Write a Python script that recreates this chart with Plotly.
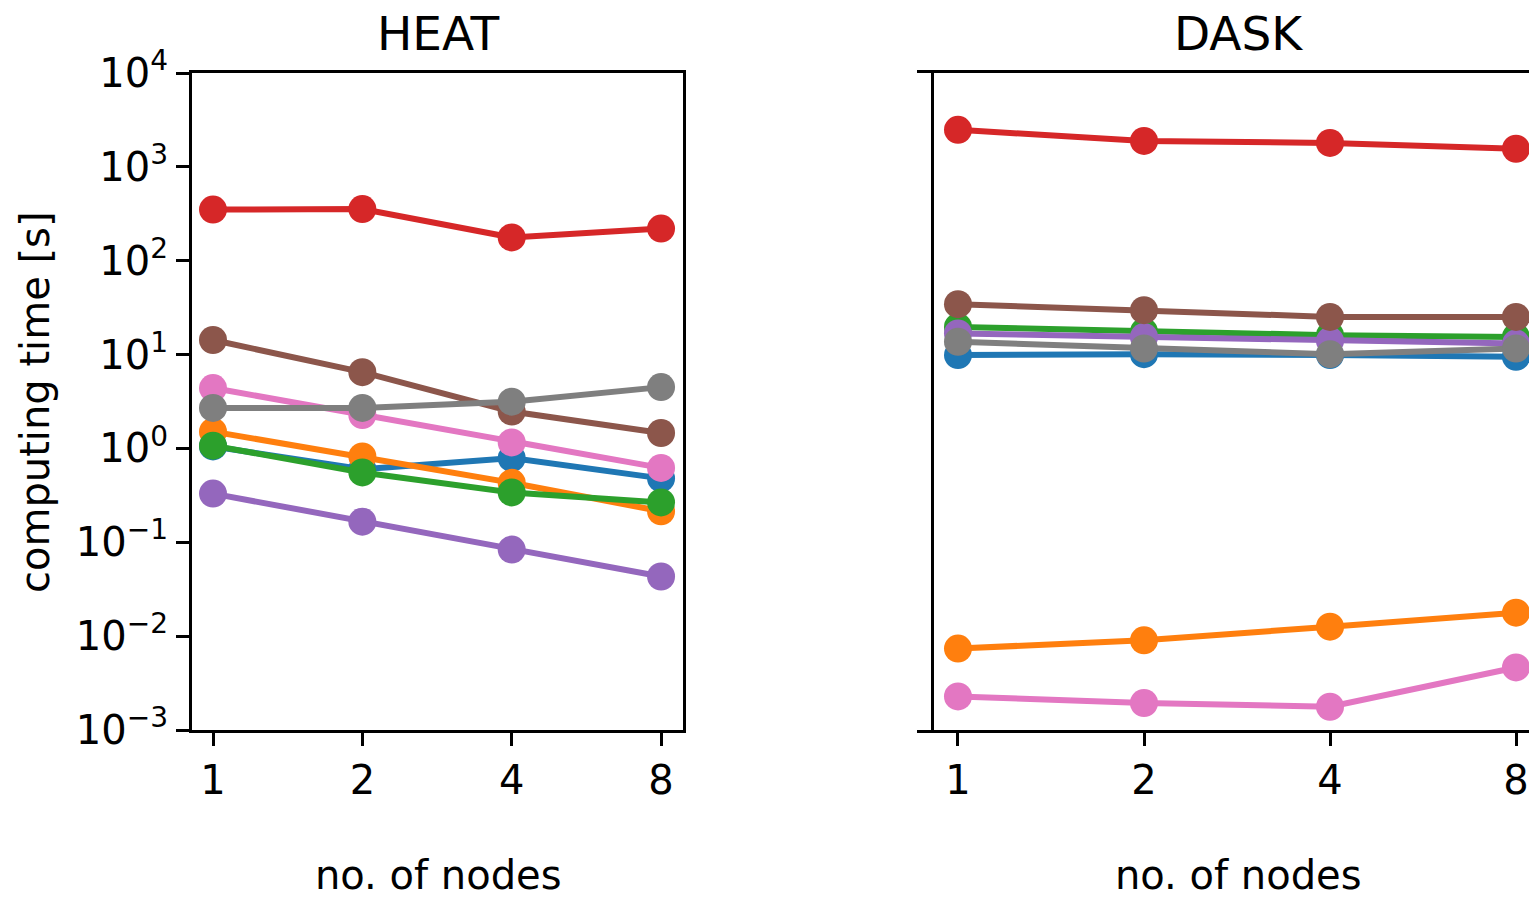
import plotly.graph_objects as go

nodes = ["1", "2", "4", "8"]

# HEAT panel (computing time [s])
heat_blue = [1.05, 0.60, 0.79, 0.48]
heat_orange = [1.51, 0.82, 0.43, 0.214]
heat_green = [1.07, 0.555, 0.34, 0.266]
heat_red = [351, 355, 177, 220]
heat_purple = [0.33, 0.166, 0.0837, 0.0432]
heat_brown = [14.3, 6.5, 2.47, 1.46]
heat_pink = [4.4, 2.27, 1.16, 0.62]
heat_gray = [2.7, 2.7, 3.15, 4.5]

# DASK panel (computing time [s])
dask_blue = [9.87, 10.1, 9.87, 9.46]
dask_orange = [0.00738, 0.00903, 0.0126, 0.0178]
dask_green = [19.7, 17.5, 16.1, 15.4]
dask_red = [2480, 1890, 1800, 1560]
dask_purple = [16.8, 15.4, 14.0, 13.1]
dask_brown = [34.4, 29.7, 25.2, 25.2]
dask_pink = [0.00228, 0.00194, 0.00177, 0.00464]
dask_gray = [13.7, 11.6, 10.1, 11.6]

colors = ["#1f77b4", "#ff7f0e", "#2ca02c", "#d62728",
          "#9467bd", "#8c564b", "#e377c2", "#7f7f7f"]

heat_series = [heat_blue, heat_orange, heat_green, heat_red,
               heat_purple, heat_brown, heat_pink, heat_gray]
dask_series = [dask_blue, dask_orange, dask_green, dask_red,
               dask_purple, dask_brown, dask_pink, dask_gray]

tick_vals = [1e-3, 1e-2, 1e-1, 1e0, 1e1, 1e2, 1e3, 1e4]
tick_text = ["10<sup>\u22123</sup>", "10<sup>\u22122</sup>", "10<sup>\u22121</sup>",
             "10<sup>0</sup>", "10<sup>1</sup>", "10<sup>2</sup>",
             "10<sup>3</sup>", "10<sup>4</sup>"]

FONT = "DejaVu Sans"
W, H = 1529, 898
ML, MT, MB, MR = 192, 73, 168, 0
PW = W - ML - MR
PH = H - MT - MB


def px_x(x):
    return (x - ML) / PW


def px_y(y):
    return (H - MB - y) / PH


fig = go.Figure()
for vals, c in zip(heat_series, colors):
    fig.add_trace(go.Scatter(x=nodes, y=vals, mode="lines+markers",
                             line=dict(color=c, width=6),
                             marker=dict(color=c, size=28),
                             xaxis="x", yaxis="y", showlegend=False,
                             cliponaxis=False))
for vals, c in zip(dask_series, colors):
    fig.add_trace(go.Scatter(x=nodes, y=vals, mode="lines+markers",
                             line=dict(color=c, width=6),
                             marker=dict(color=c, size=28),
                             xaxis="x2", yaxis="y2", showlegend=False,
                             cliponaxis=False))

axis_common = dict(showgrid=False, zeroline=False, linecolor="black",
                   linewidth=3)
tick_common = dict(tickcolor="black", tickwidth=3, ticklen=13,
                   tickfont=dict(family=FONT, size=40, color="black"))

fig.update_layout(
    width=W, height=H, autosize=False,
    margin=dict(l=ML, r=MR, t=MT, b=MB, pad=0),
    plot_bgcolor="white", paper_bgcolor="white",
    font=dict(family=FONT, size=40, color="black"),
    xaxis=dict(domain=[0, px_x(683)], type="category",
               range=[-0.1406, 3.147], anchor="y", showline=True,
               mirror=True, ticks="outside", **axis_common, **tick_common),
    yaxis=dict(domain=[0, 1], type="log", range=[-3, 4], anchor="x",
               tickvals=tick_vals, ticktext=tick_text, showline=True,
               mirror=True, ticks="outside", **axis_common, **tick_common),
    xaxis2=dict(domain=[px_x(917), 1], type="category",
                range=[-0.2204, 3.0699], anchor="y2", showline=True,
                mirror=True, ticks="outside", **axis_common, **tick_common),
    yaxis2=dict(domain=[0, 1], type="log", range=[-3, 4], anchor="free",
                position=px_x(931.5), showline=True, mirror=False,
                ticks="", showticklabels=False, **axis_common),
)

for text, cx in (("HEAT", 438), ("DASK", 1238)):
    fig.add_annotation(text=text, xref="paper", yref="paper",
                       x=px_x(cx), y=px_y(33),
                       showarrow=False, xanchor="center", yanchor="middle",
                       font=dict(family=FONT, size=47, color="black"))
for cx in (438, 1238):
    fig.add_annotation(text="no. of nodes", xref="paper", yref="paper",
                       x=px_x(cx), y=px_y(875),
                       showarrow=False, xanchor="center", yanchor="middle",
                       font=dict(family=FONT, size=40, color="black"))
fig.add_annotation(text="computing time [s]", xref="paper", yref="paper",
                   x=px_x(35), y=px_y(402), textangle=-90,
                   showarrow=False, xanchor="center", yanchor="middle",
                   font=dict(family=FONT, size=40, color="black"))

fig.write_html(
    "out.html",
    config={"displayModeBar": False},
    post_script="document.body.style.margin='0';"
                "document.body.style.overflow='hidden';",
)
